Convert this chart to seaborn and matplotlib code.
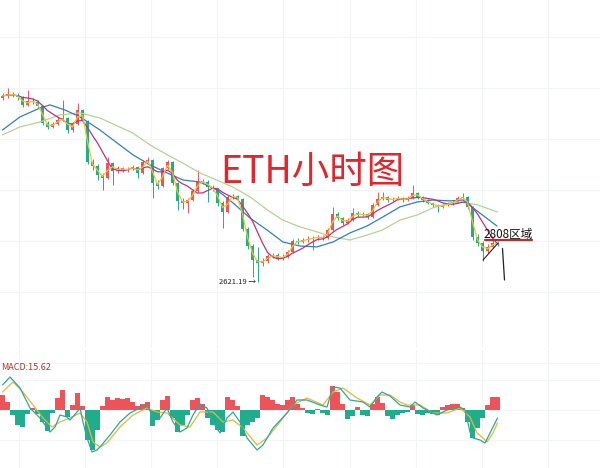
import numpy as np
import pandas as pd
import seaborn as sns
import matplotlib
matplotlib.use('Agg')
import matplotlib.pyplot as plt

# ETH hourly chart (one candle here ~ 2.5 of the original)
first_open = 3450
closes = [3458, 3467, 3462, 3454, 3418, 3436, 3431, 3413, 3337, 3319,
          3332, 3350, 3359, 3305, 3332, 3395, 3346, 3161, 3143, 3103,
          3089, 3157, 3121, 3134, 3125, 3130, 3139, 3112, 3161, 3170,
          3067, 3053, 3134, 3161, 3067, 2986, 2977, 2990, 3031, 3076,
          3071, 3049, 3040, 2977, 2936, 3004, 3008, 2995, 2860, 2783,
          2720, 2707, 2716, 2738, 2742, 2729, 2734, 2756, 2806, 2801,
          2810, 2815, 2819, 2824, 2819, 2855, 2927, 2909, 2887, 2900,
          2932, 2923, 2927, 2914, 2968, 2995, 3004, 2990, 2994, 2999,
          2990, 2999, 3022, 3004, 2990, 2977, 2968, 2959, 2968, 2972,
          2981, 2999, 3004, 2959, 2824, 2797, 2761, 2779, 2797, 2792]
highs = [3472, 3494, 3478, 3470, 3460, 3485, 3448, 3440, 3418, 3345,
         3342, 3362, 3440, 3364, 3340, 3427, 3400, 3350, 3175, 3150,
         3112, 3183, 3162, 3142, 3140, 3138, 3148, 3143, 3168, 3183,
         3174, 3078, 3140, 3170, 3165, 3070, 2998, 3000, 3040, 3125,
         3085, 3078, 3058, 3045, 2985, 3012, 3018, 3012, 2999, 2868,
         2790, 2778, 2730, 2748, 2752, 2750, 2745, 2765, 2815, 2818,
         2820, 2826, 2830, 2834, 2832, 2864, 2958, 2935, 2915, 2910,
         2954, 2940, 2936, 2932, 2976, 3026, 3026, 3010, 3002, 3008,
         3005, 3008, 3057, 3028, 3010, 2995, 2982, 2972, 2975, 2980,
         2988, 3006, 3022, 3008, 2962, 2835, 2805, 2790, 2808, 2806]
lows = [3440, 3450, 3452, 3442, 3410, 3412, 3420, 3405, 3328, 3308,
        3312, 3326, 3345, 3292, 3298, 3328, 3338, 3150, 3125, 3080,
        3035, 3084, 3057, 3112, 3115, 3118, 3124, 3089, 3108, 3152,
        2999, 3040, 3048, 3128, 3058, 2945, 2950, 2931, 2984, 3025,
        3060, 2981, 3030, 2965, 2864, 2930, 2996, 2985, 2850, 2770,
        2643, 2621.19, 2695, 2708, 2728, 2720, 2722, 2728, 2750, 2792,
        2796, 2803, 2765, 2812, 2810, 2814, 2850, 2900, 2878, 2880,
        2895, 2915, 2916, 2905, 2908, 2962, 2990, 2982, 2984, 2988,
        2982, 2984, 2994, 2996, 2982, 2970, 2960, 2936, 2952, 2962,
        2966, 2975, 2994, 2950, 2810, 2785, 2715, 2752, 2772, 2782]

# slower moving averages, read at a few points along each line
blue_idx = [0, 3.5, 7.5, 9.5, 12.5, 15.5, 19.5, 22.9, 26.1, 29.5, 32.9, 36.1, 39.5,
            42.9, 46.1, 49.5, 52.9, 56.1, 59.5, 62.9, 66.1, 69.5, 72.9, 76.1, 79.5,
            82.9, 86.1, 89.5, 92.1, 94.9, 98.9]
blue_ma = [3305, 3364, 3404, 3418, 3395, 3364, 3305, 3247, 3193, 3148, 3112, 3080, 3071,
           3035, 2977, 2909, 2855, 2801, 2783, 2779, 2801, 2842, 2873, 2914, 2959,
           2981, 2990, 2986, 2990, 2941, 2873]
green_idx = [0, 3.5, 7.5, 11.5, 15.5, 19.5, 26, 29.5, 33, 36, 39.5, 46, 49.5, 53, 56,
             59.5, 63, 66, 69.5, 73, 76, 79.5, 83, 86, 89.5, 91.5, 95, 99]
green_ma = [3283, 3319, 3341, 3373, 3382, 3359, 3292, 3238, 3193, 3157, 3112, 3049, 3004,
            2945, 2900, 2869, 2846, 2824, 2810, 2833, 2855, 2900, 2923, 2954, 2977,
            2981, 2968, 2936]

# MACD panel
macd_hist = [18, 9.6, -6, -18, -20.4, -4.8, 2.4, -4.8, -14.4, -25.2,
             -3.6, 14.4, 24, -8.4, 6, 20.4, 4.8, -36, -48, -24,
             4.8, 15.6, 12, 14.4, 13.2, 14.4, 9.6, 4.8, 7.2, 9.6,
             -19.2, -12, 12, 16.8, -9.6, -26.4, -18, -6, 12, 14.4,
             7.2, -9.6, -18, -24, -26.4, 15.6, 12, 4.8, -31.2, -18,
             -14.4, -9.6, 18, 15.6, 12, 7.2, 6, 12, 15.6, 7.2,
             2.4, -3.6, -4.8, 1.2, -3.6, -6, 28.8, 21.6, 7.2, -10.8,
             -7.2, 3.6, -6, -7.2, 7.2, 15.6, 8.4, -7.2, -10.8, -6,
             -3.6, -2.4, 6, -4.8, -6, -3.6, -4.8, -6, 3.6, 6,
             7.2, 7.2, 2.4, -14.4, -33.6, -21.6, -9.6, 6, 15.6, 15.62]
dif_idx = [0, 1.5, 3.5, 5.5, 7.5, 9.5, 10.5, 11.5, 12.9, 13.5, 14.9, 15.5, 16.1, 16.9,
           17.9, 18.9, 19.5, 21.5, 23.5, 25.5, 27.5, 28.9, 30.1, 31.5, 32.9, 34.1, 35.5,
           36.9, 38.1, 39.5, 40.9, 42.1, 43.5, 44.9, 46.1, 47.5, 48.9, 50.9, 52.1, 54.1,
           56.9, 58.9, 60.9, 63.5, 64.9, 66.1, 67.5, 69.5, 72.1, 73.5, 74.9, 75.9, 77.5,
           79.5, 81.5, 82.5, 84.1, 86.9, 88.9, 91.5, 92.5, 93.5, 94.1, 95.5, 96.5, 97.5, 99]
dif = [30, 39.6, 26.4, 2.4, -9.6, -26.4, -20.4, -6, -8.4, -12, -2.4, 2.4, -14.4, -33.6,
       -50.4, -48, -44.4, -30, -14.4, -3.6, 2.4, 6, -8.4, -9.6, 2.4, -14.4, -26.4,
       -21.6, -6, 7.2, 2.4, -14.4, -27.6, -9.6, -2.4, -14.4, -33.6, -48, -42, -21.6,
       -3.6, 12, 12, 6, 3.6, 27.6, 26.4, 12, 9.6, 3.6, 15.6, 21.6, 16.8,
       6, 3.6, 9.6, 2.4, -6, 0, 3.6, 0, -26.4, -33.6, -36, -39.6, -27.6, -9.6]
dea_idx = [0, 2.1, 4.1, 6.1, 8.1, 9.9, 11.5, 13.5, 15.5, 16.9, 18.1, 19.5, 20.9, 23.5,
           26.1, 28.9, 30.9, 32.9, 35.5, 37.5, 39.5, 42.1, 44.1, 46.1, 48.1, 50.9, 52.9,
           55.5, 58.1, 60.9, 64.1, 66.1, 68.1, 70.9, 73.5, 75.5, 77.5, 79.5, 80.9, 83.5,
           86.1, 88.9, 91.5, 93.5, 94.9, 96.1, 96.9, 98.1, 99]
dea = [21.6, 33.6, 21.6, 6, -9.6, -20.4, -14.4, -9.6, -3.6, -14.4, -38.4, -44.4, -39.6, -20.4,
       -6, 2.4, -2.4, -3.6, -18, -20.4, -2.4, -2.4, -14.4, -12, -21.6, -42, -33.6,
       -14.4, 6, 14.4, 6, 21.6, 26.4, 14.4, 6, 18, 18, 9.6, 6, 6,
       -3.6, -3.6, 2.4, -8.4, -27.6, -33.6, -38.4, -27.6, -15.6]
macd_last = 15.62

# hand-drawn marks on the original
low_price = 2621.19
zone_price = 2808
zone_x = [96.5, 105.9]
trend_x = [96.1, 99.1]
trend_y = [2720, 2796]
drop_x = [100.0, 100.4]
drop_y = [2772, 2630]

UP = '#f0525a'
DOWN = '#1fae8c'

sns.set_theme(style='white')
plt.rcParams['font.family'] = ['Noto Sans CJK SC', 'DejaVu Sans']

df = pd.DataFrame({'close': closes, 'high': highs, 'low': lows})
df['idx'] = np.arange(len(df))
df['open'] = [first_open] + closes[:-1]
df['ma_fast'] = df['close'].rolling(2, min_periods=1).mean()
df['ma_mid'] = df['close'].rolling(6, min_periods=1).mean()
up = df['close'] >= df['open']
colors = np.where(up, UP, DOWN)

fig = plt.figure(figsize=(6, 4.68), dpi=100)
ax = fig.add_axes([0, 1 - 348 / 468, 1, 348 / 468])
ax2 = fig.add_axes([0, 0, 1, 118 / 468])

# grid lines the way the app draws them (fixed pixel pitch)
xgrid = [3.3 + 13.22 * k for k in range(9)]
for a in (ax, ax2):
    a.set_xlim(-0.5, 119.5)
    a.set_xticks(xgrid)
    a.grid(True, color='#f2f5f5', linewidth=0.8)
    a.set_axisbelow(True)
    a.tick_params(length=0, labelleft=False, labelbottom=False)
    for s in a.spines.values():
        s.set_visible(False)

ax.set_ylim(2324, 3890)
ax.set_yticks([2576 + 229.5 * k for k in range(6)])

# candles
ax.vlines(df['idx'], df['low'], df['high'], colors=colors, linewidth=0.7)
body = (df['close'] - df['open']).abs().clip(lower=2)
ax.bar(df['idx'], body, bottom=df[['open', 'close']].min(axis=1), width=0.72,
       color=colors, linewidth=0)

# moving averages
sns.lineplot(x=green_idx, y=green_ma, ax=ax, color='#b3d48f', linewidth=0.9, estimator=None)
sns.lineplot(x=blue_idx, y=blue_ma, ax=ax, color='#2f7fbf', linewidth=0.9, estimator=None)
sns.lineplot(data=df, x='idx', y='ma_mid', ax=ax, color='#c42f7c', linewidth=0.9, estimator=None)
sns.lineplot(data=df, x='idx', y='ma_fast', ax=ax, color='#f2c230', linewidth=0.9, estimator=None)
ax.set_xlabel('')
ax.set_ylabel('')

# annotations
low_i = int(np.argmin(lows))
ax.annotate(f'{low_price} →', xy=(low_i, low_price), xytext=(-1, 0),
            textcoords='offset points', ha='right', va='center', fontsize=5.5, color='#222222')
ax.plot(zone_x, [zone_price, zone_price], color='#b8302c', linewidth=1.6)
ax.text(zone_x[0] - 0.4, zone_price + 12, f'{zone_price}区域', fontsize=8.4,
        ha='left', va='baseline', color='#111111')
ax.plot(trend_x, trend_y, color='#222222', linewidth=0.8)
ax.plot(drop_x, drop_y, color='#222222', linewidth=0.9)

fig.text(312 / 600, 1 - 172 / 468, 'ETH小时图', fontsize=27, color='#e3262b',
         ha='center', va='center')

# MACD
ax2.set_ylim(-69.6, 72)
ax2.set_yticks([-36, 0, 36, 56.4])
hist_colors = [UP if v >= 0 else DOWN for v in macd_hist]
ax2.bar(np.arange(len(macd_hist)), macd_hist, width=0.85, color=hist_colors, linewidth=0)
sns.lineplot(x=dea_idx, y=dea, ax=ax2, color='#e9b53a', linewidth=0.9, estimator=None)
sns.lineplot(x=dif_idx, y=dif, ax=ax2, color='#2aa99e', linewidth=0.9, estimator=None)
ax2.set_xlabel('')
ax2.set_ylabel('')
fig.text(1 / 600, 1 - 368 / 468, f'MACD:{macd_last}', fontsize=6.5, color='#b0352f',
         ha='left', va='center')

fig.savefig('out.png', dpi=100, facecolor='white')
